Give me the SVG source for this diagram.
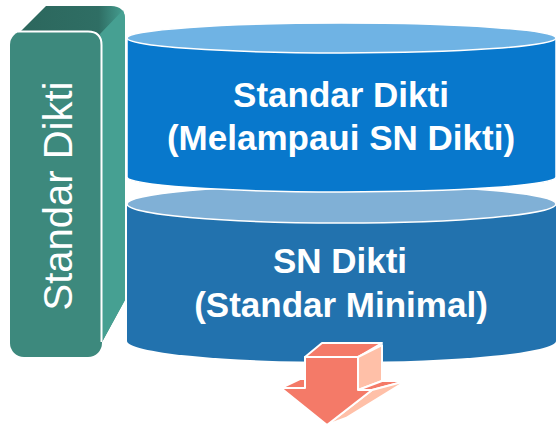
<svg xmlns="http://www.w3.org/2000/svg" width="558" height="428" viewBox="0 0 558 428">
  <defs>
    <linearGradient id="tealTop" x1="0" y1="0" x2="1" y2="0">
      <stop offset="0" stop-color="#2c675d"/>
      <stop offset="0.75" stop-color="#2f6e64"/>
      <stop offset="1" stop-color="#46a092"/>
    </linearGradient>
    <style>
      .label { font-family: "Liberation Sans", Arial, sans-serif; fill: #ffffff; text-anchor: middle; }
      .bold { font-weight: bold; font-size: 35px; }
      .edge { stroke: #ffffff; stroke-width: 1.5; }
      .arrow { stroke: #ffffff; stroke-width: 2; stroke-linejoin: round; }
    </style>
  </defs>
  <rect width="558" height="428" fill="#ffffff"/>

  <!-- lower cylinder: SN Dikti -->
  <g id="sn-dikti">
    <path d="M127,204 V341 A214.5,21 0 0 0 556,341 V204 Z" fill="#2272ae"/>
    <ellipse cx="341.5" cy="204" rx="214.5" ry="19" fill="#80b0d6" class="edge"/>
    <text class="label bold" x="340" y="273">SN Dikti</text>
    <text class="label bold" x="341" y="317">(Standar Minimal)</text>
  </g>

  <!-- upper cylinder: Standar Dikti above the national minimum -->
  <g id="standar-dikti-atas">
    <path d="M127,38 V177 A214.5,15 0 0 0 556,177 V38 Z" fill="#0878cc" class="edge"/>
    <ellipse cx="341.5" cy="38" rx="214.5" ry="15" fill="#6fb3e4" class="edge"/>
    <text class="label bold" x="341" y="107">Standar Dikti</text>
    <text class="label bold" x="341" y="150">(Melampaui SN Dikti)</text>
  </g>

  <!-- vertical block on the left -->
  <g id="standar-dikti-blok">
    <path d="M20,32 L46,6 H111 Q125,6 125,20 V300 L102,342 V44 Z" fill="url(#tealTop)"/>
    <path d="M100,34 L123,10 Q125,14 125,20 V300 L102,342 V44 Z" fill="#46a092"/>
    <rect x="10" y="31" width="92" height="326" rx="14" fill="#3d897d"/>
    <path d="M18,31.5 H88 Q101.5,31.5 101.5,45 V342" fill="none" stroke="#ffffff" stroke-width="2"/>
    <text class="label" font-size="40" transform="translate(72,196) rotate(-90)" x="0" y="0">Standar Dikti</text>
  </g>

  <!-- downward block arrow -->
  <g id="panah">
    <path class="arrow" d="M305,357 L322,343 H382 L358,357 Z" fill="#f47a68"/>
    <path class="arrow" d="M358,357 L382,345 V381 L358,390 Z" fill="#ffc0a8"/>
    <path class="arrow" d="M358,390 L382,381 H406 L372,390 Z" fill="#f47a68"/>
    <path class="arrow" d="M372,390 L406,381 L346,418 L327,425 Z" fill="#ffc0a8"/>
    <path class="arrow" d="M281,388 L300,379 H305 V388 Z" fill="#f47a68"/>
    <path class="arrow" d="M305,357 H358 V390 H372 L327,425 L281,388 H305 Z" fill="#f47a68"/>
  </g>
</svg>
